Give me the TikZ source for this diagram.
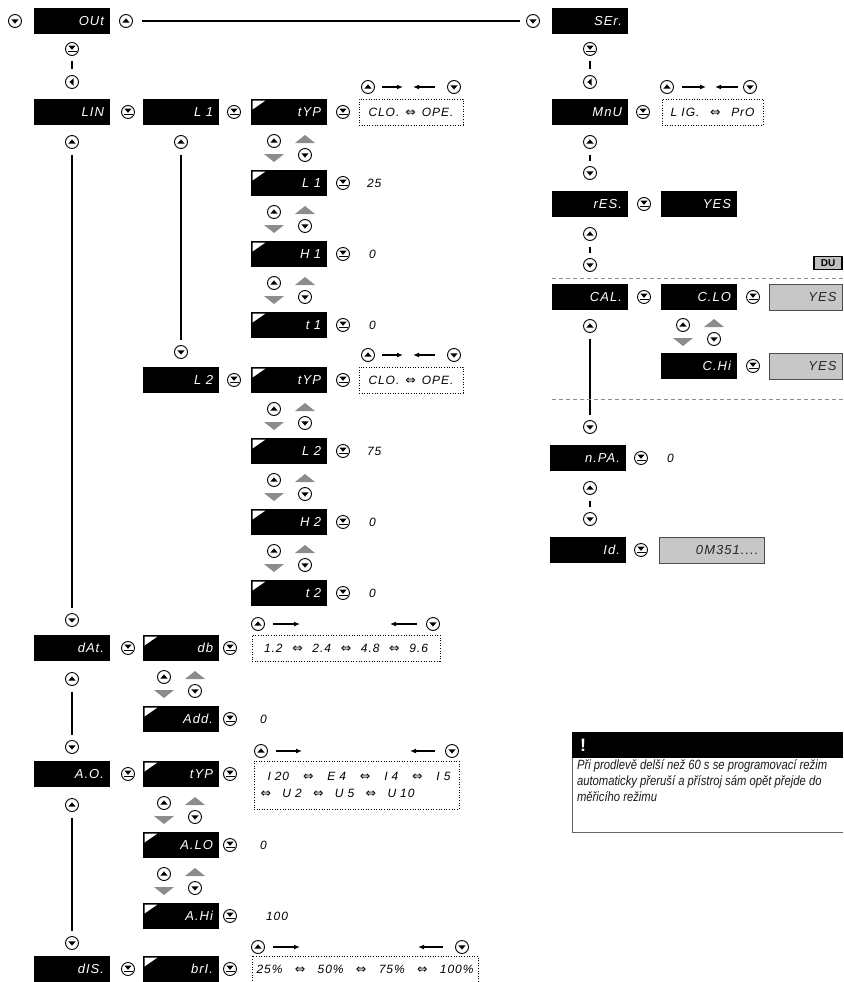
\documentclass[tikz,border=0pt]{standalone}
\usepackage{fontspec}
\setmainfont{Liberation Sans}
\newfontfamily\disp{Liberation Sans}[LetterSpace=8]
\newfontfamily\symf{DejaVu Sans}
\newfontfamily\notef{Liberation Sans}[FakeStretch=0.84]
\usetikzlibrary{arrows.meta}
\newcommand\dar{{\symf\upshape\fontsize{12.5}{12.5}\selectfont ⇔}}
\newcommand\spanbox[2]{\makebox[#1][l]{#2}}
\begin{document}
\begin{tikzpicture}[x=1pt,y=-1pt,
  every node/.style={inner sep=0pt, outer sep=0pt},
  dbox/.style={fill=black, text=white, minimum width=76pt, minimum height=26pt, text width=64pt, align=right, font=\disp\itshape\fontsize{13}{13}\selectfont},
  dboxc/.style={dbox, path picture={\fill[white] ([shift={(1.5,1.5)}]path picture bounding box.north west) -- ++(13,0) -- ++(-13,9) -- cycle;}},
  gbox/.style={fill=black!22, draw=black!70, line width=0.8pt, minimum height=26pt, align=right, text=black!85, font=\disp\itshape\fontsize{13}{13}\selectfont},
  dotbox/.style={draw, line width=0.9pt, dash pattern=on 0.9pt off 1.7pt, minimum height=26pt, font=\disp\itshape\fontsize{12}{12}\selectfont},
  val/.style={anchor=west, font=\disp\itshape\fontsize{12}{12}\selectfont},
  btn/.style={circle, draw, line width=0.9pt, minimum size=13pt, inner sep=0pt},
  bup/.style={btn, path picture={\fill[shift={(path picture bounding box.center)}] (-3.6,1.6) -- (3.6,1.6) -- (0,-2.6) -- cycle;}},
  bdown/.style={btn, path picture={\fill[shift={(path picture bounding box.center)}] (-3.6,-1.6) -- (3.6,-1.6) -- (0,2.6) -- cycle;}},
  benter/.style={btn, path picture={\fill[shift={(path picture bounding box.center)}] (-3.6,-3.4) -- (3.6,-3.4) -- (0,0.8) -- cycle; \draw[line width=1.1pt, shift={(path picture bounding box.center)}] (-4.5,2.8) -- (4.5,2.8);}},
  bleft/.style={btn, path picture={\fill[shift={(path picture bounding box.center)}] (1.6,-3.6) -- (1.6,3.6) -- (-2.6,0) -- cycle;}},
  vline/.style={line width=2pt, shorten <=6pt, shorten >=6pt},
  hline/.style={line width=1.5pt, shorten <=9pt, shorten >=7pt},
  arr/.style={line width=1.3pt, -{Latex[length=6pt,width=5pt]}},
  tri/.style={fill=black!45},
  sep/.style={draw=black!45, line width=0.9pt, dash pattern=on 4pt off 3pt}
]
\useasboundingbox (0,0) rectangle (843,982);

% ---------- top row ----------
\node[bdown] (t0) at (15,21) {};
\node[dbox] (out) at (72,21) {OUt};
\node[bup] (t1) at (126,21) {};
\node[bdown] (t2) at (533,21) {};
\draw[hline] (t1) -- (t2);
\node[dbox] (ser) at (590,21) {SEr.};

% ---------- left column ----------
\node[benter] (le1) at (72,49) {};
\node[bleft] (ll1) at (72,82) {};
\draw[vline] (le1) -- (ll1);

\node[dbox] (lin) at (72,112) {LIN};
\node[benter] (le2) at (128,112) {};
\node[dbox] (l1) at (181,112) {L 1};
\node[benter] (le3) at (234,112) {};
\node[dboxc] (typa) at (289,112) {tYP};
\node[benter] (le4) at (343,112) {};
\node[dotbox, minimum width=104pt] (sela) at (411,112) {\spanbox{85pt}{CLO.\hfill\dar\hfill OPE.}};

\node[bup] (linu) at (72,142) {};
\node[bdown] (lind) at (72,620) {};
\draw[vline] (linu) -- (lind);

\node[bup] (l1u) at (181,142) {};
\node[bdown] (l1d) at (181,352) {};
\draw[vline] (l1u) -- (l1d);

\node[dboxc] (pl1) at (289,183) {L 1};
\node[benter] (pe1) at (343,183) {};
\node[val] (vl1) at (367,183) {25};
\node[dboxc] (ph1) at (289,254) {H 1};
\node[benter] (pe2) at (343,254) {};
\node[val] (vh1) at (369,254) {0};
\node[dboxc] (pt1) at (289,325) {t 1};
\node[benter] (pe3) at (343,325) {};
\node[val] (vt1) at (369,325) {0};

\node[dbox] (l2) at (181,380) {L 2};
\node[benter] (le5) at (234,380) {};
\node[dboxc] (typb) at (289,380) {tYP};
\node[benter] (le6) at (343,380) {};
\node[dotbox, minimum width=104pt] (selc) at (411,380) {\spanbox{85pt}{CLO.\hfill\dar\hfill OPE.}};

\node[dboxc] (pl2) at (289,451) {L 2};
\node[benter] (pe4) at (343,451) {};
\node[val] (vl2) at (367,451) {75};
\node[dboxc] (ph2) at (289,522) {H 2};
\node[benter] (pe5) at (343,522) {};
\node[val] (vh2) at (369,522) {0};
\node[dboxc] (pt2) at (289,593) {t 2};
\node[benter] (pe6) at (343,593) {};
\node[val] (vt2) at (369,593) {0};

% dAt.
\node[dbox] (dat) at (72,648) {dAt.};
\node[benter] (le7) at (128,648) {};
\node[dboxc] (db) at (181,648) {db};
\node[benter] (le8) at (230,648) {};
\node[dotbox, minimum width=188pt] (seld) at (346,648) {\spanbox{164pt}{1.2\hfill\dar\hfill 2.4\hfill\dar\hfill 4.8\hfill\dar\hfill 9.6}};
\node[bup] (datu) at (72,679) {};
\node[bdown] (datd) at (72,747) {};
\draw[vline] (datu) -- (datd);
\node[dboxc] (add) at (181,719) {Add.};
\node[benter] (pe7) at (230,719) {};
\node[val] (vadd) at (260,719) {0};

% A.O.
\node[dbox] (ao) at (72,774) {A.O.};
\node[benter] (le9) at (128,774) {};
\node[dboxc] (typc) at (181,774) {tYP};
\node[benter] (le10) at (230,774) {};
\node[dotbox, minimum width=205pt, minimum height=48pt, text width=192pt, align=left] (sele) at (356.5,785) {\hspace*{7pt}\spanbox{183pt}{I 20\hfill\dar\hfill E 4\hfill\dar\hfill I 4\hfill\dar\hfill I 5}\\[5pt]\spanbox{154pt}{\dar\hfill U 2\hfill\dar\hfill U 5\hfill\dar\hfill U 10}};
\node[bup] (aou) at (72,805) {};
\node[bdown] (aod) at (72,943) {};
\draw[vline] (aou) -- (aod);
\node[dboxc] (alo) at (181,845) {A.LO};
\node[benter] (pe8) at (230,845) {};
\node[val] (valo) at (260,845) {0};
\node[dboxc] (ahi) at (181,916) {A.Hi};
\node[benter] (pe9) at (230,916) {};
\node[val] (vahi) at (266,916) {100};

% dIS.
\node[dbox] (dis) at (72,969) {dIS.};
\node[benter] (le11) at (128,969) {};
\node[dboxc] (bri) at (181,969) {brI.};
\node[benter] (le12) at (230,969) {};
\node[dotbox, minimum width=226pt] (self) at (365,969) {\spanbox{217pt}{25\%\hfill\dar\hfill 50\%\hfill\dar\hfill 75\%\hfill\dar\hfill 100\%}};

% ---------- up/down pairs ----------
\foreach \i/\x/\m in {1/274/147.5, 2/274/218.5, 3/274/289.5, 4/274/415.5, 5/274/486.5, 6/274/557.5, 7/164/683.5, 8/164/809.5, 9/164/880.5, 10/683/331.5} {
  \node[bup] (pu\i) at (\x,\m-6.5) {};
  \node[bdown] (pd\i) at (\x+31,\m+7.5) {};
  \fill[tri] (\x-10,\m+6.5) -- (\x+10,\m+6.5) -- (\x,\m+14.5) -- cycle;
  \fill[tri] (\x+21,\m-4.5) -- (\x+41,\m-4.5) -- (\x+31,\m-12.5) -- cycle;
}

% ---------- arrow rows ----------
\foreach \i/\y/\u/\ra/\rb/\la/\lb/\d in {1/87/368/382/403/435/413/454, 2/355/368/382/403/435/413/454, 3/87/667/682/706/738/715/750, 4/624/258/273/300/417/390/433, 5/751/261/276/302/435/410/452, 6/947/258/273/300/443/418/462} {
  \node[bup] (au\i) at (\u,\y) {};
  \node[bdown] (ad\i) at (\d,\y) {};
  \coordinate (rA\i) at (\ra,\y);
  \coordinate (rB\i) at (\rb,\y);
  \coordinate (lA\i) at (\la,\y);
  \coordinate (lB\i) at (\lb,\y);
  \draw[arr] (rA\i) -- (rB\i);
  \draw[arr] (lA\i) -- (lB\i);
}

% ---------- right column ----------
\node[benter] (re1) at (590,49) {};
\node[bleft] (rl1) at (590,82) {};
\draw[vline] (re1) -- (rl1);
\node[dbox] (mnu) at (590,112) {MnU};
\node[benter] (rm) at (643,112) {};
\node[dotbox, minimum width=101pt] (selb) at (712.5,112) {\spanbox{84pt}{L IG.\hfill\dar\hfill PrO}};

\node[bup] (ru1) at (590,142) {};
\node[bdown] (rd1) at (590,173) {};
\draw[vline] (ru1) -- (rd1);
\node[dbox] (res) at (590,204) {rES.};
\node[benter] (rr) at (644,204) {};
\node[dbox] (yes1) at (699,204) {YES};

\node[bup] (ru2) at (590,234) {};
\node[bdown] (rd2) at (590,265) {};
\draw[vline] (ru2) -- (rd2);

\node[draw, line width=1.6pt, fill=black!25, minimum width=28pt, minimum height=13pt, font=\bfseries\fontsize{10}{10}\selectfont] (du) at (828,263) {DU};
\coordinate (s1a) at (552,278);
\coordinate (s1b) at (843,278);
\draw[sep] (s1a) -- (s1b);

\node[dbox] (cal) at (590,297) {CAL.};
\node[benter] (rc) at (644,297) {};
\node[dbox] (clo) at (699,297) {C.LO};
\node[benter] (rc2) at (753,297) {};
\node[gbox, minimum width=73pt, text width=62pt] (yes2) at (805.5,297) {YES};

\node[bup] (ru3) at (590,326) {};
\node[bdown] (rd3) at (590,427) {};
\draw[vline] (ru3) -- (rd3);

\node[dbox] (chi) at (699,366) {C.Hi};
\node[benter] (rc3) at (753,366) {};
\node[gbox, minimum width=73pt, text width=62pt] (yes3) at (805.5,366) {YES};

\coordinate (s2a) at (552,399);
\coordinate (s2b) at (843,399);
\draw[sep] (s2a) -- (s2b);

\node[dbox] (npa) at (588,458) {n.PA.};
\node[benter] (rn) at (641,458) {};
\node[val] (vn) at (667,458) {0};

\node[bup] (ru4) at (590,488) {};
\node[bdown] (rd4) at (590,519) {};
\draw[vline] (ru4) -- (rd4);

\node[dbox] (idn) at (588,550) {Id.};
\node[benter] (ri) at (641,550) {};
\node[gbox, minimum width=105pt, text width=94pt] (idv) at (711.5,550) {0M351....};

% ---------- note ----------
\node[fill=black, minimum width=271pt, minimum height=26pt, anchor=north west] (nhead) at (572,732) {};
\node[text=white, font=\bfseries\fontsize{18}{18}\selectfont] (bang) at (583,745) {!};
\coordinate (nbl) at (572,832);
\coordinate (nbr) at (843,832);
\draw[black!60, line width=0.9pt] (nhead.south west) -- (nbl) -- (nbr);
\node[anchor=north west, align=left, text=black!90, font=\notef\itshape\fontsize{13.4}{16}\selectfont] (ntext) at (577,760) {Při prodlevě delší než 60 s se programovací režim\\automaticky přeruší a přístroj sám opět přejde do\\měřicího režimu};
\end{tikzpicture}
\end{document}
